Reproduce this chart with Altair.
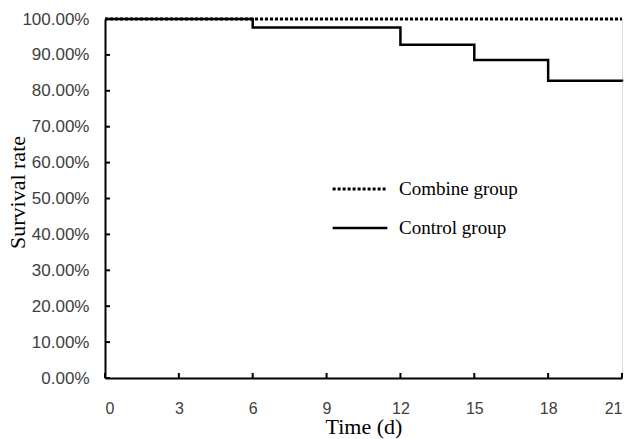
import altair as alt
import pandas as pd

# --- data ---
groups = ["Combine group", "Control group"]
combine_time = [0, 21]
combine_surv = [1.0, 1.0]
control_time = [0, 6, 12, 15, 18, 21]
control_surv = [1.0, 0.976, 0.928, 0.886, 0.828, 0.826]
x_ticks = [0, 3, 6, 9, 12, 15, 18, 21]
y_ticks = [0.0, 0.1, 0.2, 0.3, 0.4, 0.5, 0.6, 0.7, 0.8, 0.9, 1.0]

rows = []
for t, s in zip(control_time, control_surv):
    rows.append({"time": t, "surv": s, "group": groups[1], "order": 0})
for t, s in zip(combine_time, combine_surv):
    rows.append({"time": t, "surv": s, "group": groups[0], "order": 1})
df = pd.DataFrame(rows)

W, H = 517, 359
SANS = "Liberation Sans"
SERIF = "Liberation Serif"

xscale = alt.Scale(domain=[0, 21], nice=False, zero=False)
yscale = alt.Scale(domain=[0, 1], nice=False)

xaxis = alt.Axis(values=x_ticks, title="Time (d)", grid=False, tickSize=0,
                 labelPadding=22, labelFont=SANS, labelFontSize=16, labelColor="#404040",
                 labelOverlap=False,
                 titleFont=SERIF, titleFontSize=22, titleFontWeight="normal",
                 titleColor="black", titlePadding=0,
                 domainColor="black", domainWidth=2)
yaxis = alt.Axis(values=y_ticks, format=".2%", title="Survival rate", grid=False,
                 tickSize=0, labelPadding=16, labelFont=SANS, labelFontSize=17,
                 labelColor="#404040", labelOverlap=False,
                 titleFont=SERIF, titleFontSize=22, titleY=173,
                 titleFontWeight="normal", titleColor="black", titlePadding=-8,
                 domainColor="black", domainWidth=2)

lines = alt.Chart(df).mark_line(interpolate="step-after", color="black").encode(
    x=alt.X("time:Q", scale=xscale, axis=xaxis, title="Time (d)"),
    y=alt.Y("surv:Q", scale=yscale, axis=yaxis, title="Survival rate"),
    detail="group:N",
    order="order:Q",
    strokeDash=alt.StrokeDash("group:N",
        scale=alt.Scale(domain=groups, range=[[3, 2], [1, 0]]),
        legend=alt.Legend(title=None, orient="none", legendX=226, legendY=141,
                          symbolType="stroke", symbolSize=3000, symbolStrokeWidth=2.5,
                          symbolStrokeColor="black",
                          labelFont=SERIF, labelFontSize=19, labelColor="black",
                          labelOffset=10, rowPadding=-14)),
    strokeWidth=alt.StrokeWidth("group:N",
        scale=alt.Scale(domain=groups, range=[3, 2.5]), legend=None),
)

ytick_df = pd.DataFrame({"v": y_ticks})
xtick_df = pd.DataFrame({"v": x_ticks})

yticks = alt.Chart(ytick_df).mark_rule(color="black", strokeWidth=2).encode(
    y=alt.Y("v:Q", scale=yscale, axis=yaxis, title="Survival rate"),
    x=alt.value(0), x2=alt.value(5))
xticks = alt.Chart(xtick_df).mark_rule(color="black", strokeWidth=2).encode(
    x=alt.X("v:Q", scale=xscale, axis=xaxis, title="Time (d)"),
    y=alt.value(H), y2=alt.value(H - 5))

chart = alt.layer(yticks, xticks, lines).properties(
    width=W, height=H,
    autosize="none",
    padding={"left": 97, "top": 11, "right": 3, "bottom": 61},
).configure_view(stroke=None).configure(background="white")

chart.save("out.html", embed_options={"renderer": "svg", "actions": False})
